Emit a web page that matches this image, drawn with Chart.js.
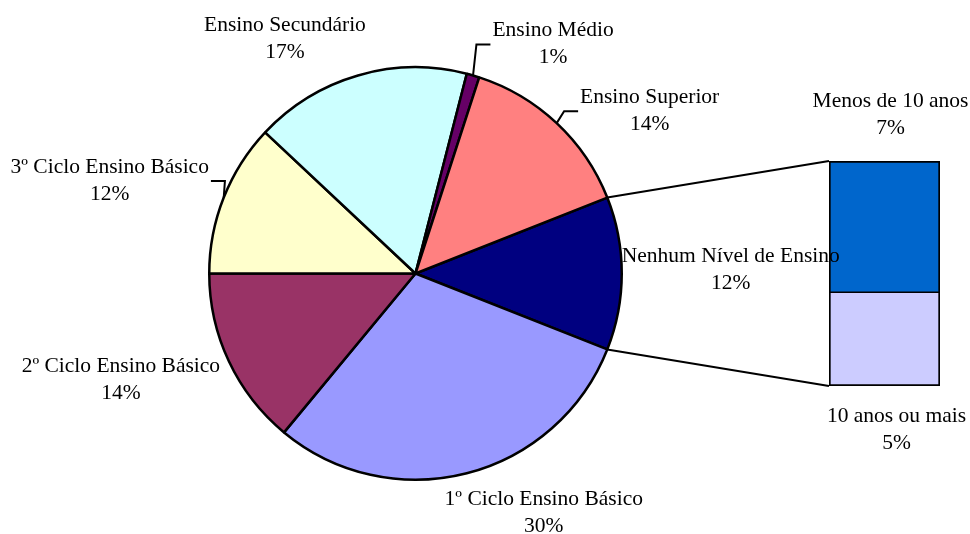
<!DOCTYPE html>
<html>
<head>
<meta charset="utf-8">
<title>Nível de Ensino</title>
<script src="https://cdn.jsdelivr.net/npm/chart.js@4.4.0/dist/chart.umd.min.js"></script>
<style>
  body { margin: 0; background: #fff; }
  #wrap { position: relative; width: 970px; height: 534px; }
  #wrap canvas { position: absolute; left: 0; top: 0; }
</style>
</head>
<body>
<div id="wrap">
  <canvas id="pieChart" width="970" height="534"></canvas>
  <canvas id="barChart" width="970" height="534"></canvas>
</div>
<script>
// pie slices, clockwise from the "Nenhum" slice that is split into the bar
const categorias = ['Nenhum Nível de Ensino', '1º Ciclo Ensino Básico', '2º Ciclo Ensino Básico',
    '3º Ciclo Ensino Básico', 'Ensino Secundário', 'Ensino Médio', 'Ensino Superior'];
const percentagens = [12, 30, 14, 12, 17, 1, 14];
const coresPie = ['#000080', '#9999FF', '#993366', '#FFFFCC', '#CCFFFF', '#660066', '#FF8080'];

// breakdown of the "Nenhum" slice, bottom segment first
const subCategorias = ['10 anos ou mais', 'Menos de 10 anos'];
const subPercentagens = [5, 7];
const coresBar = ['#CCCCFF', '#0066CC'];

const FONT = '21.5px "Liberation Serif", "Times New Roman", serif';
const LINE_H = 27;

// label placement: offset from the slice's outer edge at mid angle
// (dx -> text centre, dy -> first baseline), leader = side of the elbow line
const pieLabelPos = [
    {dx: 109, dy: -11.5},
    {dx: 77, dy: 31.5},
    {dx: -108, dy: 10.5},
    {dx: -114, dy: -24.5, leader: 'right'},
    {dx: -73, dy: -44.5},
    {dx: 80, dy: -39, leader: 'left'},
    {dx: 93, dy: -20, leader: 'left'}
];
// bar labels: offset from bar centre x, and from bar top / bottom
const barLabelPos = [
    {dx: 12, dy: 36},   // below the bar
    {dx: 6, dy: -54}    // above the bar
];

function drawLines(ctx, lines, cx, y) {
    ctx.save();
    ctx.font = FONT;
    ctx.fillStyle = '#000';
    ctx.textAlign = 'center';
    ctx.textBaseline = 'alphabetic';
    lines.forEach((t, i) => ctx.fillText(t, cx, y + i * LINE_H));
    ctx.restore();
}

const pieChart = new Chart(document.getElementById('pieChart'), {
    type: 'pie',
    data: {
        labels: categorias,
        datasets: [{
            data: percentagens,
            backgroundColor: coresPie,
            borderColor: '#000',
            borderWidth: 2.5
        }]
    },
    options: {
        responsive: false,
        animation: false,
        devicePixelRatio: 1,
        // first slice centred on the right side
        rotation: 90 - percentagens[0] * 3.6 / 2,
        layout: {padding: {left: 208, right: 347, top: 66, bottom: 53}},
        plugins: {
            legend: {display: false},
            tooltip: {enabled: false}
        }
    }
});

const pieOverlay = {
    id: 'pieOverlay',
    beforeDatasetsDraw(chart) {
        // connector lines from the split slice to the bar
        const ctx = chart.ctx;
        const arc = pieChart.getDatasetMeta(0).data[0];
        const R = arc.outerRadius;
        const bars = chart.getDatasetMeta(1).data;
        const bottomBar = chart.getDatasetMeta(0).data[0];
        const left = bars[0].x - bars[0].width / 2;
        ctx.save();
        ctx.strokeStyle = '#000';
        ctx.lineWidth = 2;
        ctx.beginPath();
        ctx.moveTo(arc.x + R * Math.cos(arc.startAngle), arc.y + R * Math.sin(arc.startAngle));
        ctx.lineTo(left, bars[0].y);
        ctx.moveTo(arc.x + R * Math.cos(arc.endAngle), arc.y + R * Math.sin(arc.endAngle));
        ctx.lineTo(left, bottomBar.base);
        ctx.stroke();
        ctx.restore();
    },
    afterDraw(chart) {
        const ctx = chart.ctx;
        // pie labels
        pieChart.getDatasetMeta(0).data.forEach((arc, i) => {
            const mid = (arc.startAngle + arc.endAngle) / 2;
            const ax = arc.x + arc.outerRadius * Math.cos(mid);
            const ay = arc.y + arc.outerRadius * Math.sin(mid);
            const pos = pieLabelPos[i];
            const cx = ax + pos.dx;
            const by = ay + pos.dy;
            const lines = [categorias[i], percentagens[i] + '%'];
            drawLines(ctx, lines, cx, by);
            if (pos.leader) {
                ctx.save();
                ctx.font = FONT;
                const w = Math.max(...lines.map(t => ctx.measureText(t).width));
                const ly = by + 8;
                const endX = pos.leader === 'left' ? cx - w / 2 - 2 : cx + w / 2 + 2;
                const elbowX = pos.leader === 'left' ? endX - 14 : endX + 14;
                ctx.strokeStyle = '#000';
                ctx.lineWidth = 2;
                ctx.beginPath();
                ctx.moveTo(ax, ay);
                ctx.lineTo(elbowX, ly);
                ctx.lineTo(endX, ly);
                ctx.stroke();
                ctx.restore();
            }
        });
        // bar labels
        subCategorias.forEach((name, i) => {
            const el = chart.getDatasetMeta(i).data[0];
            const pos = barLabelPos[i];
            const ref = i === 0 ? el.base : el.y;
            drawLines(ctx, [name, subPercentagens[i] + '%'], el.x + pos.dx, ref + pos.dy);
        });
    }
};

new Chart(document.getElementById('barChart'), {
    type: 'bar',
    data: {
        labels: [''],
        datasets: subCategorias.map((name, i) => ({
            label: name,
            data: [subPercentagens[i]],
            backgroundColor: coresBar[i],
            borderColor: '#000',
            borderSkipped: false,
            borderWidth: i === 0 ? {top: 1, left: 2, right: 2, bottom: 2} : {top: 2, left: 2, right: 2, bottom: 1},
            barPercentage: 1,
            categoryPercentage: 1
        }))
    },
    options: {
        responsive: false,
        animation: false,
        devicePixelRatio: 1,
        layout: {padding: {left: 829, right: 30, top: 161, bottom: 148}},
        scales: {
            x: {display: false, stacked: true},
            y: {display: false, stacked: true, min: 0, max: subPercentagens.reduce((a, b) => a + b, 0)}
        },
        plugins: {
            legend: {display: false},
            tooltip: {enabled: false}
        }
    },
    plugins: [pieOverlay]
});
</script>
</body>
</html>
